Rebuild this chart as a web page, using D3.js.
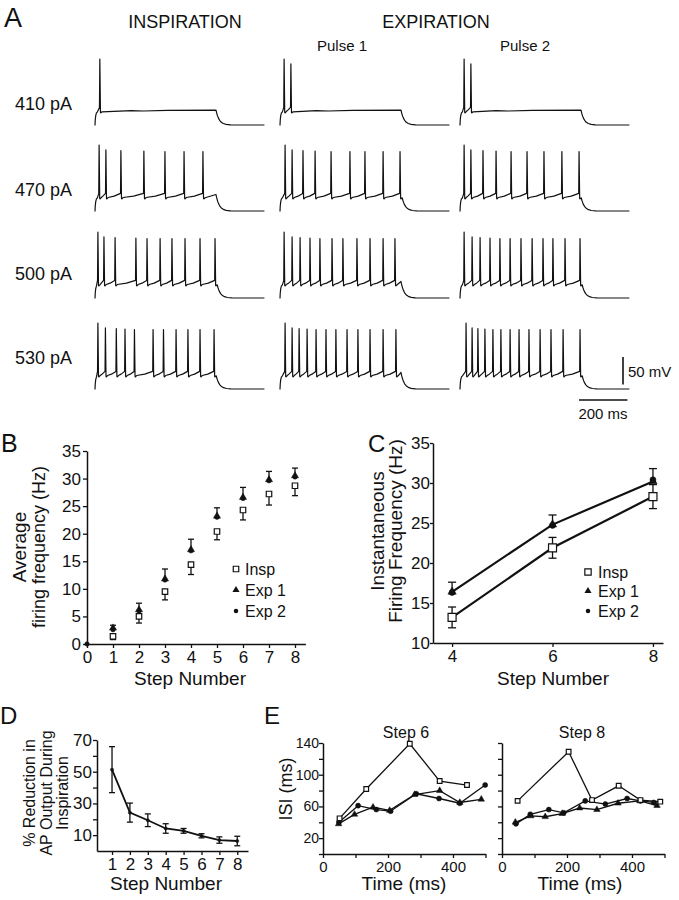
<!DOCTYPE html>
<html><head><meta charset="utf-8">
<script src="https://cdn.jsdelivr.net/npm/d3@7"></script>
<style>
body{margin:0;background:#fff}
svg{display:block}
text{font-family:"Liberation Sans",Arial,Helvetica,sans-serif;fill:#111}
</style>
</head><body>
<svg id="fig" width="679" height="900"></svg>
<script>
// ---------------- DATA ----------------
// Panel A: spike times (ms after step onset) for each current step
const currents = ["410 pA", "470 pA", "500 pA", "530 pA"];
const spikesInsp = [
  [20],
  [17, 45, 107, 202, 289, 368, 446],
  [12, 37, 83, 169, 215, 269, 318, 372, 434, 496],
  [12, 43, 88, 124, 163, 240, 283, 335, 384, 434, 492]
];
const spikesPulse1 = [
  [17, 45],
  [21, 50, 95, 145, 211, 289, 351, 426, 496],
  [17, 50, 83, 124, 165, 215, 260, 318, 372, 426, 475],
  [21, 50, 79, 112, 149, 190, 231, 277, 322, 372, 426, 479]
];
const spikesPulse2 = [
  [17, 45],
  [17, 45, 95, 149, 211, 277, 347, 421, 492],
  [17, 50, 83, 124, 165, 207, 252, 298, 343, 384, 434, 496],
  [25, 50, 74, 103, 136, 169, 207, 244, 285, 331, 376, 426, 496]
];

// Panel B: average firing frequency (Hz)
const stepsB = [0, 1, 2, 3, 4, 5, 6, 7, 8];
const avgInsp = [0, 1.4, 5.0, 9.5, 14.4, 20.4, 24.3, 27.2, 28.7];
const avgInspErr = [0, 0.6, 1.2, 1.5, 1.8, 1.5, 1.8, 2.0, 1.8];
const avgExp1 = [0, 2.9, 6.2, 11.8, 17.1, 23.2, 26.6, 29.8, 30.5];
const avgExp1Err = [0, 0.5, 1.2, 1.8, 1.9, 1.5, 1.8, 1.5, 1.4];
const avgExp2 = [0, 2.6, 6.0, 11.6, 16.9, 23.0, 26.4, 29.6, 30.3];
const yTicksB = [0, 5, 10, 15, 20, 25, 30, 35];

// Panel C: instantaneous firing frequency (Hz)
const stepsC = [4, 6, 8];
const instInsp = [13.2, 21.9, 28.3];
const instInspErr = [1.3, 1.3, 1.5];
const instExp1 = [16.4, 24.8, 30.2];
const instExp1Err = [1.2, 1.2, 1.6];
const instExp2 = [16.3, 24.7, 30.4];
const yTicksC = [10, 15, 20, 25, 30, 35];

// Panel D: % reduction in AP output during inspiration
const stepsD = [1, 2, 3, 4, 5, 6, 7, 8];
const reduction = [51.3, 24.2, 19.4, 14.2, 12.7, 9.6, 6.9, 6.3];
const reductionErr = [14.5, 6.0, 4.0, 3.0, 1.5, 1.3, 2.0, 3.0];
const yTicksD = [10, 20, 30, 40, 50, 60, 70];
const yLabelsD = [10, 30, 50, 70];

// Panel E: ISI (ms) vs time (ms)
const step6InspT = [51, 133, 267, 359, 443];
const step6InspISI = [45, 82, 139, 92, 87];
const step6Exp1T = [48, 97, 154, 205, 282, 359, 421, 487];
const step6Exp1ISI = [38, 50, 59, 55, 75, 80, 65, 69];
const step6Exp2T = [49, 108, 164, 208, 287, 357, 421, 499];
const step6Exp2ISI = [40, 61, 56, 54, 76, 70, 64, 87];
const step8InspT = [48, 205, 277, 359, 426, 487];
const step8InspISI = [67, 129, 68, 86, 68, 66];
const step8Exp1T = [41, 89, 133, 185, 239, 292, 357, 424, 477];
const step8Exp1ISI = [40, 48, 47, 51, 58, 56, 64, 67, 61];
const step8Exp2T = [43, 87, 144, 190, 256, 318, 385, 426, 467];
const step8Exp2ISI = [38, 50, 56, 52, 67, 63, 70, 67, 65];
const yTicksE = [0, 20, 40, 60, 80, 100, 120, 140];
const yLabelsE = [20, 60, 100, 140];
const xTicksE = [0, 100, 200, 300, 400, 500];
const xLabelsE = [0, 200, 400];

// ---------------- DRAWING ----------------
const svg = d3.select("#fig");
svg.append("rect").attr("width", 679).attr("height", 900).attr("fill", "#fff");
const INK = "#111";

function label(x, y, str, size, anchor = "start", rot = false) {
  const t = svg.append("text").attr("font-size", size).attr("text-anchor", anchor).text(str);
  if (rot) t.attr("transform", `translate(${x},${y}) rotate(-90)`);
  else t.attr("x", x).attr("y", y);
  return t;
}
function styleAxis(g, fs) {
  g.selectAll("path,line").attr("stroke", INK).attr("stroke-width", 1.3);
  g.select(".domain").attr("stroke-width", 1.5);
  g.selectAll("text").attr("font-size", fs).attr("fill", INK)
    .attr("font-family", '"Liberation Sans",Arial,Helvetica,sans-serif');
}

// ---------- Panel A ----------
label(4, 27, "A", 27);
label(185, 28, "INSPIRATION", 18, "middle");
label(436, 28, "EXPIRATION", 18, "middle");
label(342, 51, "Pulse 1", 15, "middle");
label(525, 51, "Pulse 2", 15, "middle");

const rowBase = [125, 211, 298, 389];
const rowLabelY = [110, 196, 280, 364];
const colX0 = [95, 280, 460];
const allSpikes = [spikesInsp, spikesPulse1, spikesPulse2];

function buildTrace(spk) {
  const REST = -70, PLAT = -45, THR = -38, AHP = -48, PEAK1 = 50, PEAK = 42;
  const onset = [[0, REST - 1], [1, REST + 9], [3, REST + 17], [6, PLAT - 3], [10, PLAT - 1]];
  const first = spk.length ? spk[0] : 1e9;
  const out = onset.filter(p => p[0] < first - 2);
  spk.forEach((ts, i) => {
    out.push([ts - 1.5, THR]);
    out.push([ts, i === 0 ? PEAK1 : PEAK - Math.min(i, 4)]);
    out.push([ts + 2.5, AHP + 1]);
    out.push([ts + 4, AHP]);
    const next = spk[i + 1];
    if (next !== undefined && next - ts > 20) {
      const gap = next - ts;
      out.push([ts + 9, AHP + 2.5]);
      out.push([ts + gap * 0.55, AHP + 5]);
    } else {
      out.push([ts + 9, AHP + 2]);
    }
  });
  const last = spk.length ? spk[spk.length - 1] : 0;
  if (spk.length <= 2) {
    out.push([150, PLAT + 1]); out.push([200, PLAT + 0.5]); out.push([300, PLAT + 1.5]);
    out.push([500, PLAT + 2]);
  } else if (last + 9 < 500) {
    out.push([500, THR - 2]);
  }
  const tEnd = Math.max(500, last + 9);
  const vEnd = out[out.length - 1][1];
  [1, 3, 6, 10, 15, 22, 30, 42, 60, 90].forEach(d =>
    out.push([tEnd + d, REST + (vEnd - REST) * Math.exp(-d / 13)]));
  out.push([700, REST]);
  return out;
}

currents.forEach((c, r) => {
  label(15, rowLabelY[r], c, 18);
  colX0.forEach((x0, k) => {
    const xs = d3.scaleLinear().domain([0, 700]).range([x0, x0 + 169.4]);
    const ys = d3.scaleLinear().domain([-70, 50]).range([rowBase[r], rowBase[r] - 66]);
    const line = d3.line().x(d => xs(d[0])).y(d => ys(d[1]));
    svg.append("path").attr("d", line(buildTrace(allSpikes[k][r])))
      .attr("fill", "none").attr("stroke", INK).attr("stroke-width", 1.2)
      .attr("stroke-linejoin", "round");
  });
});
// scale bars
{
  const tScale = d3.scaleLinear().domain([0, 200]).range([579, 627.4]);
  const vScale = d3.scaleLinear().domain([0, 50]).range([384.5, 357]);
  svg.append("line").attr("x1", tScale(0)).attr("x2", tScale(200)).attr("y1", 400).attr("y2", 400)
    .attr("stroke", INK).attr("stroke-width", 1.6);
  svg.append("line").attr("x1", 623).attr("x2", 623).attr("y1", vScale(0)).attr("y2", vScale(50))
    .attr("stroke", INK).attr("stroke-width", 1.6);
  label(628, 377, "50 mV", 15);
  label(603, 419, "200 ms", 15, "middle");
}

// marker helpers
const sym = (type, size) => d3.symbol().type(type).size(size)();
function markers(g, xs, ys, xv, yv, kind, size) {
  const t = kind === "sq" ? d3.symbolSquare : kind === "tri" ? d3.symbolTriangle : d3.symbolCircle;
  g.selectAll(null).data(xv.map((x, i) => [x, yv[i]])).enter().append("path")
    .attr("d", sym(t, size))
    .attr("transform", d => `translate(${xs(d[0])},${ys(d[1])})`)
    .attr("fill", kind === "sq" ? "#fff" : INK)
    .attr("stroke", INK).attr("stroke-width", kind === "sq" ? 1.2 : 0.5);
}
function errBars(g, xs, ys, xv, yv, ev, dir, cap) {
  xv.forEach((x, i) => {
    if (!ev[i]) return;
    const lo = dir === "down" || dir === "both" ? yv[i] - ev[i] : yv[i];
    const hi = dir === "up" || dir === "both" ? yv[i] + ev[i] : yv[i];
    g.append("line").attr("x1", xs(x)).attr("x2", xs(x)).attr("y1", ys(lo)).attr("y2", ys(hi))
      .attr("stroke", INK).attr("stroke-width", 1.3);
    const caps = [];
    if (dir !== "up") caps.push(lo);
    if (dir !== "down") caps.push(hi);
    caps.forEach(v => g.append("line").attr("x1", xs(x) - cap / 2).attr("x2", xs(x) + cap / 2)
      .attr("y1", ys(v)).attr("y2", ys(v)).attr("stroke", INK).attr("stroke-width", 1.3));
  });
}

// ---------- Panel B ----------
{
  label(1, 452, "B", 25);
  const g = svg.append("g");
  const x = d3.scaleLinear().domain([0, 8.4]).range([87, 305.4]);
  const y = d3.scaleLinear().domain([0, 35]).range([644, 451]);
  const ax = g.append("g").attr("transform", "translate(0,644)")
    .call(d3.axisBottom(x).tickValues(stepsB).tickSize(4).tickSizeOuter(0).tickPadding(3).tickFormat(d3.format("d")));
  styleAxis(ax, 17);
  const ay = g.append("g").attr("transform", "translate(87,0)")
    .call(d3.axisLeft(y).tickValues(yTicksB).tickSize(4).tickSizeOuter(0).tickPadding(2).tickFormat(d3.format("d")));
  styleAxis(ay, 17);
  errBars(g, x, y, stepsB, avgInsp, avgInspErr, "down", 6);
  errBars(g, x, y, stepsB, avgExp1, avgExp1Err, "up", 6);
  markers(g, x, y, stepsB, avgExp2, "circ", 16);
  markers(g, x, y, stepsB.slice(1), avgExp1.slice(1), "tri", 22);
  markers(g, x, y, stepsB.slice(1), avgInsp.slice(1), "sq", 30);
  label(190, 685, "Step Number", 19, "middle");
  label(26, 547, "Average", 19, "middle", true);
  label(45, 547, "firing frequency (Hz)", 18, "middle", true);
  // legend
  const lg = svg.append("g");
  lg.append("path").attr("d", sym(d3.symbolSquare, 30)).attr("transform", "translate(236,569)")
    .attr("fill", "#fff").attr("stroke", INK).attr("stroke-width", 1.2);
  lg.append("path").attr("d", sym(d3.symbolTriangle, 22)).attr("transform", "translate(236,590)").attr("fill", INK);
  lg.append("path").attr("d", sym(d3.symbolCircle, 16)).attr("transform", "translate(236,611)").attr("fill", INK);
  label(245, 575, "Insp", 16);
  label(245, 596, "Exp 1", 16);
  label(245, 617, "Exp 2", 16);
}

// ---------- Panel C ----------
{
  label(368, 452, "C", 24);
  const g = svg.append("g");
  const x = d3.scaleLinear().domain([3.62, 8.2]).range([433, 663]);
  const y = d3.scaleLinear().domain([10, 35]).range([643, 443]);
  const ax = g.append("g").attr("transform", "translate(0,643)")
    .call(d3.axisBottom(x).tickValues(stepsC).tickSize(4).tickSizeOuter(0).tickPadding(3).tickFormat(d3.format("d")));
  styleAxis(ax, 17);
  const ay = g.append("g").attr("transform", "translate(433,0)")
    .call(d3.axisLeft(y).tickValues(yTicksC).tickSize(3).tickSizeOuter(0).tickPadding(0).tickFormat(d3.format("d")));
  styleAxis(ay, 17);
  const ln = d3.line().x(d => x(d[0])).y(d => y(d[1]));
  g.append("path").attr("d", ln(stepsC.map((s, i) => [s, instInsp[i]])))
    .attr("fill", "none").attr("stroke", INK).attr("stroke-width", 2.2);
  g.append("path").attr("d", ln(stepsC.map((s, i) => [s, instExp1[i]])))
    .attr("fill", "none").attr("stroke", INK).attr("stroke-width", 2.2);
  errBars(g, x, y, stepsC, instInsp, instInspErr, "both", 8);
  errBars(g, x, y, stepsC, instExp1, instExp1Err, "up", 8);
  markers(g, x, y, stepsC, instExp2, "circ", 28);
  markers(g, x, y, stepsC, instExp1, "tri", 30);
  markers(g, x, y, stepsC, instInsp, "sq", 64);
  label(553, 685, "Step Number", 19, "middle");
  label(384, 531, "Instantaneous", 19, "middle", true);
  label(402, 531, "Firing Frequency (Hz)", 19, "middle", true);
  const lg = svg.append("g");
  lg.append("path").attr("d", sym(d3.symbolSquare, 40)).attr("transform", "translate(588,572)")
    .attr("fill", "#fff").attr("stroke", INK).attr("stroke-width", 1.2);
  lg.append("path").attr("d", sym(d3.symbolTriangle, 22)).attr("transform", "translate(588,591)").attr("fill", INK);
  lg.append("path").attr("d", sym(d3.symbolCircle, 16)).attr("transform", "translate(588,611)").attr("fill", INK);
  label(598, 578, "Insp", 16);
  label(598, 597, "Exp 1", 16);
  label(598, 617, "Exp 2", 16);
}

// ---------- Panel D ----------
{
  label(0, 724, "D", 24);
  const g = svg.append("g");
  const x = d3.scaleLinear().domain([0.16, 8.6]).range([97, 248]);
  const y = d3.scaleLinear().domain([0, 70]).range([851, 740]);
  const ax = g.append("g").attr("transform", "translate(0,851)")
    .call(d3.axisBottom(x).tickValues(stepsD).tickSize(4).tickSizeOuter(0).tickPadding(3).tickFormat(d3.format("d")));
  styleAxis(ax, 17);
  const ay = g.append("g").attr("transform", "translate(97,0)")
    .call(d3.axisLeft(y).tickValues(yTicksD).tickSize(4).tickSizeOuter(0).tickPadding(1)
      .tickFormat(d => yLabelsD.includes(d) ? d : ""));
  styleAxis(ay, 17);
  const ln = d3.line().x(d => x(d[0])).y(d => y(d[1]));
  g.append("path").attr("d", ln(stepsD.map((s, i) => [s, reduction[i]])))
    .attr("fill", "none").attr("stroke", INK).attr("stroke-width", 1.8);
  errBars(g, x, y, stepsD, reduction, reductionErr, "both", 6);
  markers(g, x, y, stepsD, reduction, "circ", 8);
  label(166, 890, "Step Number", 19, "middle");
  label(35, 793, "% Reduction in", 16, "middle", true);
  label(52, 793, "AP Output During", 16, "middle", true);
  label(68, 793, "Inspiration", 16, "middle", true);
}

// ---------- Panel E ----------
{
  label(264, 724, "E", 24);
  const y = d3.scaleLinear().domain([0, 140]).range([854, 743]);
  const subs = [
    {x0: 323, title: "Step 6", tc: 406, data: [[step6InspT, step6InspISI], [step6Exp1T, step6Exp1ISI], [step6Exp2T, step6Exp2ISI]], labels: true},
    {x0: 502, title: "Step 8", tc: 582, data: [[step8InspT, step8InspISI], [step8Exp1T, step8Exp1ISI], [step8Exp2T, step8Exp2ISI]], labels: false}
  ];
  subs.forEach(s => {
    const g = svg.append("g");
    const x = d3.scaleLinear().domain([0, 500]).range([s.x0, s.x0 + 162.5]);
    const ax = g.append("g").attr("transform", "translate(0,854)")
      .call(d3.axisBottom(x).tickValues(xTicksE).tickSize(4).tickSizeOuter(0).tickPadding(3)
        .tickFormat(d => xLabelsE.includes(d) ? d : ""));
    styleAxis(ax, 15);
    const ay = g.append("g").attr("transform", `translate(${s.x0},0)`)
      .call(d3.axisLeft(y).tickValues(yTicksE).tickSize(4).tickSizeOuter(0).tickPadding(0)
        .tickFormat(d => s.labels && yLabelsE.includes(d) ? d : ""));
    styleAxis(ay, 14);
    const ln = d3.line().x(d => x(d[0])).y(d => y(d[1]));
    const kinds = ["sq", "tri", "circ"];
    const sizes = [22, 18, 20];
    s.data.forEach(([tv, iv]) => {
      g.append("path").attr("d", ln(tv.map((t, i) => [t, iv[i]])))
        .attr("fill", "none").attr("stroke", INK).attr("stroke-width", 1.3);
    });
    [2, 1, 0].forEach(k => markers(g, x, y, s.data[k][0], s.data[k][1], kinds[k], sizes[k]));
    label(s.tc, 738, s.title, 16, "middle");
    label(s.tc - 2, 890, "Time (ms)", 19, "middle");
  });
  label(292, 789, "ISI (ms)", 18, "middle", true);
}
</script>
</body></html>
